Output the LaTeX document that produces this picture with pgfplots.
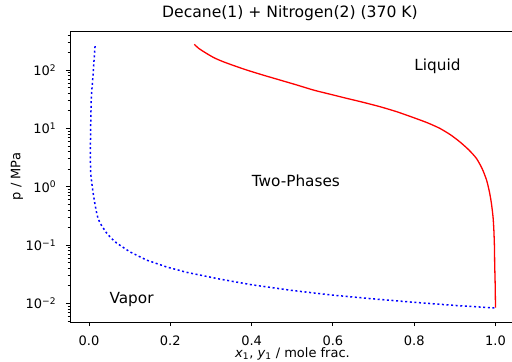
\documentclass[border=0pt]{standalone}
\usepackage{fontspec}
\setmainfont{DejaVu Sans}
\usepackage{pgfplots}
\pgfplotsset{compat=1.18}
\begin{document}
\begin{tikzpicture}
\begin{axis}[
  scale only axis, width=445bp, height=291bp,
  at={(0,0)}, anchor=south west,
  ymode=log,
  xmin=-0.0467, xmax=1.048, ymin=0.00478, ymax=467,
  axis line style={line width=0.96bp},
  tick align=outside, xtick pos=bottom, ytick pos=left,
  major tick length=4.2bp, minor tick length=2.4bp,
  every tick/.style={black, line width=0.96bp},
  every minor tick/.style={black, line width=0.72bp},
  xtick={0,0.2,0.4,0.6,0.8,1},
  xticklabels={0.0,0.2,0.4,0.6,0.8,1.0},
  ytick={0.01,0.1,1,10,100},
  yticklabels={10\textsuperscript{−2},10\textsuperscript{−1},10\textsuperscript{0},10\textsuperscript{1},10\textsuperscript{2}},
  minor ytick={0.005,0.006,0.007,0.008,0.009,0.02,0.03,0.04,0.05,0.06,0.07,0.08,0.09,0.2,0.3,0.4,0.5,0.6,0.7,0.8,0.9,2,3,4,5,6,7,8,9,20,30,40,50,60,70,80,90,200,300,400},
  ticklabel style={font=\fontsize{13bp}{15bp}\selectfont, inner sep=0pt},
  xticklabel style={anchor=base, yshift=-19bp},
  yticklabel style={anchor=east, xshift=-9.5bp},
  xlabel={\textit{x}\textsubscript{1}, \textit{y}\textsubscript{1} / mole frac.},
  ylabel={p / MPa},
  label style={font=\fontsize{13bp}{15bp}\selectfont, inner sep=0pt},
  xlabel style={at={(axis description cs:0.5,0)}, anchor=base, yshift=-35bp},
  ylabel style={at={(axis description cs:-0.1191,0.5)}, anchor=center},
  title={Decane(1) + Nitrogen(2) (370 K)},
  title style={font=\fontsize{15.6bp}{18bp}\selectfont, inner sep=0pt, at={(axis description cs:0.2067,1)}, anchor=base west, yshift=8bp},
]
\addplot[blue, line width=1.5bp, dash pattern=on 2bp off 2.6bp] coordinates {
(0.015,257) (0.0125,150) (0.0106,92) (0.0075,50) (0.0058,34) (0.0045,15) (0.0035,5) (0.0038,2) (0.005,1.5) (0.008,1.0) (0.010,0.8) (0.013,0.59) (0.016,0.45) (0.019,0.35) (0.022,0.29) (0.027,0.24) (0.034,0.2) (0.0435,0.16) (0.055,0.13) (0.068,0.108) (0.101,0.076) (0.142,0.055) (0.191,0.042) (0.240,0.034) (0.322,0.026) (0.40,0.0208) (0.50,0.0166) (0.60,0.0138) (0.70,0.0119) (0.80,0.0104) (0.90,0.0092) (1.0,0.0083)
};
\addplot[red, line width=1.3bp, smooth, tension=0.4] coordinates {
(0.259,276) (0.270,235) (0.289,193) (0.308,162) (0.330,139) (0.358,118) (0.388,100) (0.428,82) (0.470,67.3) (0.511,55.5) (0.552,45.4) (0.593,38.5) (0.634,32.7) (0.675,27.9) (0.716,23.5) (0.757,19.3) (0.797,15.4) (0.832,12.5) (0.863,10.0) (0.890,7.7) (0.912,5.89) (0.934,4.3) (0.953,3.06) (0.967,2.05) (0.978,1.30) (0.985,0.82) (0.990,0.516) (0.994,0.30) (0.996,0.18) (0.9975,0.09) (0.998,0.048) (0.9993,0.02) (1.0,0.0084)
};
\node[anchor=base west, inner sep=0pt, font=\fontsize{15.3bp}{18bp}\selectfont] at (axis cs:0.8,100) {Liquid};
\node[anchor=base west, inner sep=0pt, font=\fontsize{15.3bp}{18bp}\selectfont] at (axis cs:0.4,1) {Two-Phases};
\node[anchor=base west, inner sep=0pt, font=\fontsize{15.3bp}{18bp}\selectfont] at (axis cs:0.05,0.01) {Vapor};
\end{axis}
\pgfresetboundingbox
\path[use as bounding box] (-70bp,-40bp) rectangle (442bp,322bp);
\end{tikzpicture}
\end{document}
